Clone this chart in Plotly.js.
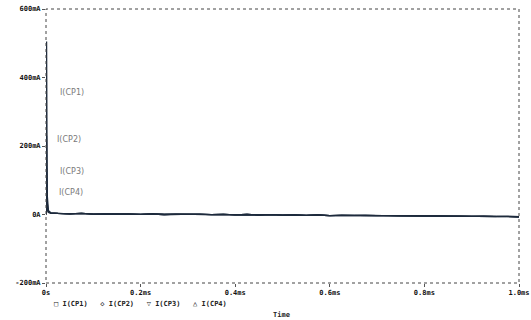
<!DOCTYPE html>
<html>
<head>
<meta charset="utf-8">
<script src="https://cdn.plot.ly/plotly-3.0.1.min.js"></script>
<style>html,body{margin:0;padding:0;background:#fff;}#chart{width:531px;height:320px;}</style>
</head>
<body>
<div id="chart"></div>
<script>
// Time (ms) of the initial spike and of the steady tail
const tHead = [0, 0.0012, 0.0025, 0.005, 0.01];
const tTail = [0.025,0.05,0.075,0.1,0.125,0.15,0.175,0.2,0.225,0.25,0.275,0.3,0.325,0.35,0.375,0.4,0.425,0.45,0.475,0.5,
               0.525,0.55,0.575,0.6,0.625,0.65,0.675,0.7,0.725,0.75,0.775,0.8,0.825,0.85,0.875,0.9,0.925,0.95,0.975,1.0];
// Currents (mA)
const cp1Head = [0, 505, 60, 12, 5];
const cp2Head = [0, 230, 35, 9, 5];
const cp3Head = [0, 135, 22, 7, 4];
const cp4Head = [0, 70, 14, 6, 4];
const iTail = [3,2,3,1,2,1,2,0.5,1.5,0,1,0,1,-0.5,0.5,-1,0,-1.5,-0.5,-2,
               -1,-2.5,-1.5,-3,-2,-3,-2.5,-3.5,-3,-4,-3.5,-4.5,-4,-5,-4.5,-5.5,-5,-6,-5.5,-6.5];
const seriesNames = ['I(CP1)','I(CP2)','I(CP3)','I(CP4)'];
const heads = [cp1Head, cp2Head, cp3Head, cp4Head];
// Tick labels
const xTickVals = [0, 0.2, 0.4, 0.6, 0.8, 1.0];
const xTickText = ['0s','0.2ms','0.4ms','0.6ms','0.8ms','1.0ms'];
const yTickVals = [-200, 0, 200, 400, 600];
const yTickText = ['-200mA','0A','200mA','400mA','600mA'];
// In-plot labels (position of label near each spike)
const labelX = [0.025, 0.019, 0.025, 0.023];
const labelY = [356, 219, 126, 64];

const traces = heads.map((h, i) => ({
  x: tHead.concat(tTail),
  y: h.concat(iTail),
  name: seriesNames[i],
  type: 'scatter',
  mode: 'lines',
  line: {color: '#1d2a3c', width: 1.3},
  showlegend: false
}));

const tickFont = {family: 'DejaVu Sans Mono', size: 7, color: '#111', weight: 'bold'};
const annotations = seriesNames.map((n, i) => ({
  x: labelX[i], y: labelY[i], xref: 'x', yref: 'y', text: n, showarrow: false,
  xanchor: 'left', yanchor: 'middle',
  font: {family: 'DejaVu Sans', size: 8, color: '#7a7a7a'}
}));
annotations.push({
  x: 0.012, y: -0.075, xref: 'paper', yref: 'paper', showarrow: false,
  xanchor: 'left', yanchor: 'middle',
  text: '\u25A1 ' + seriesNames[0] + '   \u25C7 ' + seriesNames[1] + '   \u25BD ' + seriesNames[2] + '   \u25B3 ' + seriesNames[3],
  font: {family: 'DejaVu Sans Mono', size: 7, color: '#222', weight: 'bold'}
});
annotations.push({
  x: 0.497, y: -0.118, xref: 'paper', yref: 'paper', showarrow: false,
  xanchor: 'center', yanchor: 'middle', text: 'Time',
  font: {family: 'DejaVu Sans Mono', size: 7, color: '#222', weight: 'bold'}
});

const layout = {
  width: 531, height: 320,
  margin: {l: 46, r: 12, t: 9, b: 37},
  paper_bgcolor: '#fff', plot_bgcolor: '#fff',
  showlegend: false,
  xaxis: {
    range: [0, 1.0], tickvals: xTickVals, ticktext: xTickText,
    showgrid: false, zeroline: false, showline: false,
    ticks: 'outside', ticklen: 3, tickcolor: '#555',
    tickfont: tickFont
  },
  yaxis: {
    range: [-200, 600], tickvals: yTickVals, ticktext: yTickText,
    showgrid: false, zeroline: false, showline: false,
    ticks: 'outside', ticklen: 3, tickcolor: '#555',
    tickfont: tickFont
  },
  shapes: [{
    type: 'rect', xref: 'x domain', yref: 'y domain', x0: 0, x1: 1, y0: 0, y1: 1,
    line: {color: '#444', width: 1, dash: 'dot'}
  }],
  annotations: annotations
};

Plotly.newPlot('chart', traces, layout, {displayModeBar: false, staticPlot: true});
</script>
</body>
</html>
